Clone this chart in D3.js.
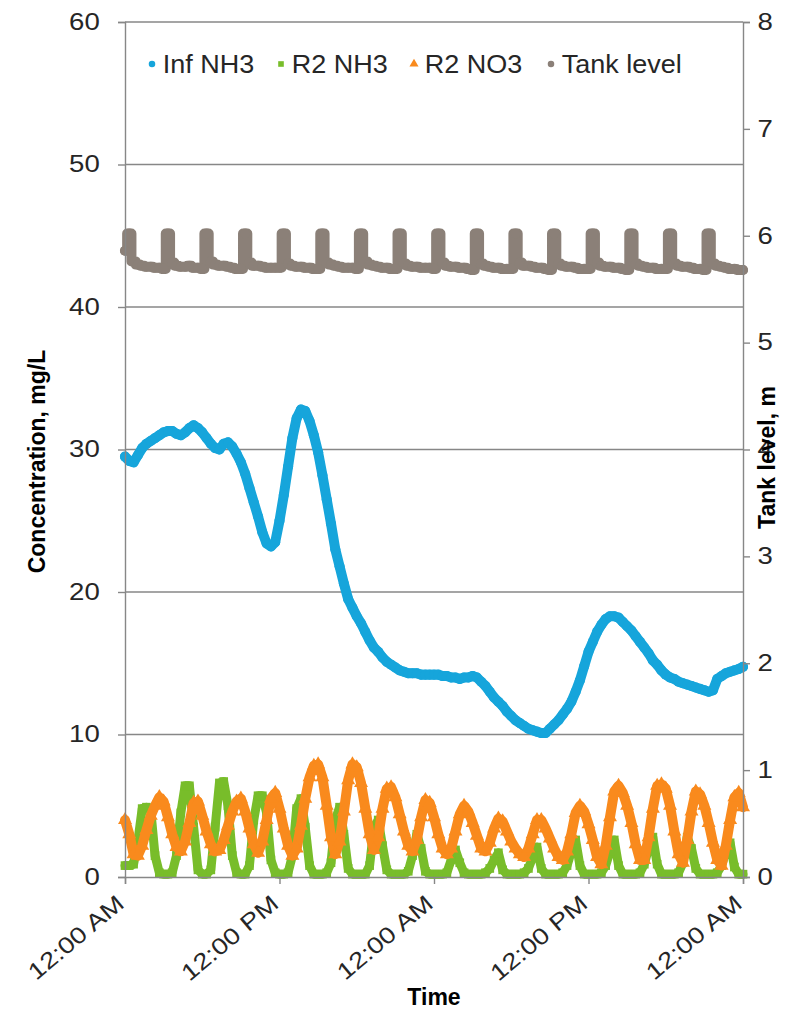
<!DOCTYPE html>
<html>
<head>
<meta charset="utf-8">
<script src="https://cdn.jsdelivr.net/npm/d3@7"></script>
<style>
  body { margin: 0; background: #fff; }
  svg { display: block; }
  text { font-family: "Liberation Sans", Arial, sans-serif; }
</style>
</head>
<body>
<div id="chart"></div>
<script>
'use strict';

// readings every 20 minutes over 48 hours, one row = one 3 h cycle
var stepHours = 1 / 3;

var xTickHours = [0, 12, 24, 36, 48];
var xTickLabels = ['12:00 AM', '12:00 PM', '12:00 AM', '12:00 PM', '12:00 AM'];
var leftTicks = [0, 10, 20, 30, 40, 50, 60];
var rightTicks = [0, 1, 2, 3, 4, 5, 6, 7, 8];

var seriesNames = ['Inf NH3', 'R2 NH3', 'R2 NO3', 'Tank level'];

var infNH3 = [
  29.5, 29.2, 29.1, 29.6, 30.1, 30.4, 30.6, 30.8, 31.0,
  31.2, 31.3, 31.3, 31.1, 31.0, 31.2, 31.5, 31.7, 31.5,
  31.2, 30.8, 30.4, 30.1, 30.0, 30.4, 30.5, 30.2, 29.7,
  29.1, 28.3, 27.3, 26.3, 25.3, 24.2, 23.4, 23.2, 23.5,
  25.0, 26.8, 28.8, 30.8, 32.2, 32.8, 32.7, 32.0, 31.0,
  29.8, 28.2, 26.5, 24.8, 23.0, 21.8, 20.6, 19.5, 18.9,
  18.3, 17.8, 17.2, 16.6, 16.1, 15.8, 15.4, 15.1, 14.9,
  14.7, 14.5, 14.4, 14.3, 14.3, 14.3, 14.2, 14.2, 14.2,
  14.2, 14.2, 14.1, 14.1, 14.0, 14.0, 13.9, 14.0, 14.0,
  14.1, 14.0, 13.7, 13.4, 13.0, 12.6, 12.3, 12.0, 11.6,
  11.3, 11.0, 10.8, 10.6, 10.4, 10.3, 10.2, 10.1, 10.1,
  10.4, 10.7, 11.0, 11.4, 11.8, 12.3, 13.0, 13.8, 14.8,
  15.8, 16.5, 17.2, 17.7, 18.1, 18.3, 18.3, 18.2, 17.9,
  17.6, 17.3, 16.9, 16.5, 16.1, 15.7, 15.2, 14.9, 14.5,
  14.2, 14.0, 13.9, 13.7, 13.6, 13.5, 13.4, 13.3, 13.2,
  13.1, 13.0, 13.1, 13.9, 14.1, 14.3, 14.4, 14.5, 14.6,
  14.75
];

var r2NH3 = [
  0.8, 0.8, 0.9, 2.5, 4.8, 4.9, 4.7, 1.5, 0.3,
  0.2, 0.2, 0.3, 1.5, 4.5, 6.4, 6.4, 3.5, 0.5,
  0.2, 0.2, 0.5, 3.5, 6.6, 6.7, 5.0, 1.5, 0.3,
  0.2, 0.2, 0.8, 4.0, 5.7, 5.7, 4.5, 1.2, 0.3,
  0.2, 0.2, 0.3, 1.5, 4.8, 5.5, 3.5, 0.8, 0.2,
  0.2, 0.2, 0.3, 1.0, 4.0, 4.9, 3.0, 0.6, 0.2,
  0.2, 0.2, 0.2, 0.8, 3.5, 4.0, 2.2, 0.5, 0.2,
  0.2, 0.2, 0.2, 0.4, 1.5, 3.0, 2.0, 0.4, 0.2,
  0.2, 0.2, 0.2, 0.3, 1.2, 1.9, 1.0, 0.3, 0.2,
  0.2, 0.2, 0.2, 0.3, 0.6, 1.2, 1.7, 0.5, 0.2,
  0.2, 0.2, 0.2, 0.3, 0.6, 1.4, 2.1, 0.6, 0.2,
  0.2, 0.2, 0.2, 0.3, 0.8, 1.8, 2.6, 0.8, 0.2,
  0.2, 0.2, 0.2, 0.3, 0.8, 1.8, 2.6, 0.8, 0.2,
  0.2, 0.2, 0.2, 0.3, 0.9, 2.0, 2.8, 0.9, 0.2,
  0.2, 0.2, 0.2, 0.3, 1.0, 2.8, 2.0, 0.6, 0.2,
  0.2, 0.2, 0.2, 0.3, 0.8, 1.8, 2.4, 0.7, 0.2,
  0.2
];

var r2NO3 = [
  4.0, 3.0, 1.6, 1.5, 2.2, 3.3, 4.3, 5.0, 5.6,
  5.3, 4.2, 3.0, 2.1, 1.8, 2.5, 3.8, 5.2, 5.3,
  4.3, 3.2, 2.3, 1.8, 1.9, 2.6, 3.6, 4.6, 5.3,
  5.5, 4.6, 3.4, 2.3, 1.7, 2.5, 4.0, 5.5, 5.9,
  4.8, 3.4, 2.2, 1.5, 2.0, 3.6, 5.5, 7.0, 7.8,
  7.9, 7.0, 5.0, 2.8, 1.6, 2.5, 4.6, 6.8, 7.9,
  7.7, 6.6, 4.8, 3.0, 1.9, 2.8, 4.8, 6.2, 6.3,
  5.6, 4.4, 3.2, 2.2, 1.8, 2.6, 4.2, 5.4, 5.2,
  4.2, 3.0, 2.0, 1.6, 2.0, 3.2, 4.4, 5.0, 4.6,
  3.8, 2.9, 2.0, 1.8, 2.4, 3.4, 4.1, 3.9, 3.2,
  2.5, 2.0, 1.6, 1.4, 2.0, 3.0, 4.0, 4.0, 3.4,
  2.7, 2.0, 1.4, 1.2, 1.8, 3.0, 4.5, 5.0, 4.6,
  3.7, 2.6, 1.4, 0.9, 2.2, 4.2, 6.0, 6.4, 5.9,
  5.0, 3.8, 2.3, 1.2, 1.2, 2.8, 4.8, 6.4, 6.5,
  6.2, 5.0, 3.2, 1.6, 1.0, 2.6, 4.6, 6.0, 5.8,
  5.0, 3.8, 2.4, 1.2, 0.8, 2.2, 4.0, 5.6, 5.9,
  4.9
];

// fill events show as short jumps to ~6 m once per cycle
var tankLevel = [
  5.86, 6.02, 5.76, 5.73, 5.72, 5.71, 5.71, 5.70, 5.70,
  5.69, 6.02, 5.75, 5.72, 5.71, 5.71, 5.72, 5.70, 5.70,
  5.69, 6.02, 5.76, 5.73, 5.72, 5.72, 5.71, 5.70, 5.69,
  5.69, 6.02, 5.75, 5.72, 5.72, 5.71, 5.70, 5.70, 5.70,
  5.70, 6.02, 5.74, 5.72, 5.71, 5.71, 5.70, 5.70, 5.69,
  5.69, 6.02, 5.75, 5.73, 5.72, 5.71, 5.70, 5.70, 5.70,
  5.69, 6.02, 5.76, 5.73, 5.72, 5.71, 5.70, 5.70, 5.69,
  5.69, 6.02, 5.74, 5.72, 5.71, 5.71, 5.70, 5.70, 5.70,
  5.69, 6.02, 5.75, 5.72, 5.71, 5.71, 5.70, 5.70, 5.69,
  5.68, 6.02, 5.74, 5.72, 5.71, 5.70, 5.70, 5.69, 5.69,
  5.69, 6.02, 5.75, 5.72, 5.72, 5.71, 5.70, 5.70, 5.69,
  5.68, 6.02, 5.74, 5.72, 5.71, 5.71, 5.70, 5.69, 5.69,
  5.69, 6.02, 5.75, 5.72, 5.71, 5.71, 5.70, 5.70, 5.69,
  5.68, 6.02, 5.74, 5.72, 5.71, 5.70, 5.70, 5.69, 5.69,
  5.69, 6.02, 5.74, 5.72, 5.71, 5.71, 5.70, 5.69, 5.69,
  5.68, 6.02, 5.74, 5.72, 5.71, 5.70, 5.69, 5.69, 5.68,
  5.68
];

var width = 787, height = 1010;
var plot = { left: 125, right: 743, top: 22, bottom: 877 };

var svg = d3.select('#chart').append('svg')
  .attr('width', width)
  .attr('height', height);

var x = d3.scaleLinear().domain([0, 48]).range([plot.left, plot.right]);
var yLeft = d3.scaleLinear().domain([0, 60]).range([plot.bottom, plot.top]);
var yRight = d3.scaleLinear().domain([0, 8]).range([plot.bottom, plot.top]);

var axisGray = '#878787';
var labelColor = '#262626';
var stretch = 1.2;   // tick labels in the picture are drawn wide

// horizontal gridlines
svg.append('g')
  .selectAll('line')
  .data(leftTicks.filter(function(d) { return d > 0; }))
  .enter()
  .append('line')
    .attr('x1', plot.left).attr('x2', plot.right)
    .attr('y1', function(d) { return yLeft(d); })
    .attr('y2', function(d) { return yLeft(d); })
    .attr('stroke', axisGray)
    .attr('stroke-width', 1.4);

function toPoints(values) {
  return values.map(function(v, i) { return { t: i * stepHours, v: v }; });
}

var series = [
  { name: seriesNames[0], values: infNH3, y: yLeft, color: '#16a5db', symbol: d3.symbolCircle,
    size: 80, width: 10, curve: d3.curveLinear },
  { name: seriesNames[1], values: r2NH3, y: yLeft, color: '#78bd2a', symbol: d3.symbolSquare,
    size: 75, width: 9, curve: d3.curveLinear },
  { name: seriesNames[2], values: r2NO3, y: yLeft, color: '#f98a1d', symbol: d3.symbolTriangle,
    size: 85, width: 10, curve: d3.curveLinear },
  { name: seriesNames[3], values: tankLevel, y: yRight, color: '#8b8078', symbol: d3.symbolCircle,
    size: 80, width: 10, curve: d3.curveStep }
];

var plotG = svg.append('g');

series.forEach(function(s) {
  var pts = toPoints(s.values);
  var line = d3.line()
    .curve(s.curve)
    .x(function(d) { return x(d.t); })
    .y(function(d) { return s.y(d.v); });

  plotG.append('path')
    .datum(pts)
    .attr('d', line)
    .attr('fill', 'none')
    .attr('stroke', s.color)
    .attr('stroke-width', s.width)
    .attr('stroke-linejoin', 'round')
    .attr('stroke-linecap', 'round');

  plotG.append('g')
    .selectAll('path')
    .data(pts)
    .enter()
    .append('path')
      .attr('d', d3.symbol().type(s.symbol).size(s.size))
      .attr('transform', function(d) { return 'translate(' + x(d.t) + ',' + s.y(d.v) + ')'; })
      .attr('fill', s.color);
});

// left axis
var leftAxis = svg.append('g')
  .attr('transform', 'translate(' + plot.left + ',0)')
  .call(d3.axisLeft(yLeft).tickValues(leftTicks).tickSize(7).tickPadding(14));

// right axis
var rightAxis = svg.append('g')
  .attr('transform', 'translate(' + plot.right + ',0)')
  .call(d3.axisRight(yRight).tickValues(rightTicks).tickSize(7).tickPadding(5));

// bottom axis
var bottomAxis = svg.append('g')
  .attr('transform', 'translate(0,' + plot.bottom + ')')
  .call(d3.axisBottom(x).tickValues(xTickHours).tickSize(7)
    .tickFormat(function(d, i) { return xTickLabels[i]; }));

[leftAxis, rightAxis, bottomAxis].forEach(function(a) {
  a.select('.domain').attr('stroke', axisGray).attr('stroke-width', 1.4);
  a.selectAll('.tick line').attr('stroke', axisGray).attr('stroke-width', 1.4);
  a.selectAll('text')
    .attr('fill', labelColor)
    .style('font-size', '23px')
    .style('font-family', '"Liberation Sans", Arial, sans-serif');
});

leftAxis.selectAll('.tick text').attr('transform', 'scale(' + stretch + ',1)');
rightAxis.selectAll('.tick text').attr('transform', 'scale(' + stretch + ',1)');

bottomAxis.selectAll('.tick text')
  .attr('text-anchor', 'end')
  .attr('dy', 0)
  .attr('y', 0)
  .attr('transform', 'translate(0,29) rotate(-40) scale(' + stretch + ',1)');

// axis titles
svg.append('text')
  .attr('transform', 'translate(45,' + ((plot.top + plot.bottom) / 2 + 12) + ') rotate(-90)')
  .attr('text-anchor', 'middle')
  .style('font-size', '23px')
  .style('font-weight', 'bold')
  .text('Concentration, mg/L');

svg.append('text')
  .attr('transform', 'translate(775,' + ((plot.top + plot.bottom) / 2 + 8) + ') rotate(-90)')
  .attr('text-anchor', 'middle')
  .style('font-size', '23px')
  .style('font-weight', 'bold')
  .text('Tank level, m');

svg.append('text')
  .attr('x', (plot.left + plot.right) / 2)
  .attr('y', 1005)
  .attr('text-anchor', 'middle')
  .style('font-size', '23px')
  .style('font-weight', 'bold')
  .text('Time');

// legend
var legendX = [152, 281, 414, 551];
var legend = svg.append('g')
  .selectAll('g')
  .data(series)
  .enter()
  .append('g')
    .attr('transform', function(d, i) { return 'translate(' + legendX[i] + ',64)'; });

legend.append('path')
  .attr('d', function(d) { return d3.symbol().type(d.symbol).size(d.size * 0.42)(); })
  .attr('fill', function(d) { return d.color; });

legend.append('text')
  .attr('x', 10)
  .attr('y', 9)
  .attr('transform', 'scale(1.08,1)')
  .attr('fill', labelColor)
  .style('font-size', '25px')
  .text(function(d) { return d.name; });
</script>
</body>
</html>
